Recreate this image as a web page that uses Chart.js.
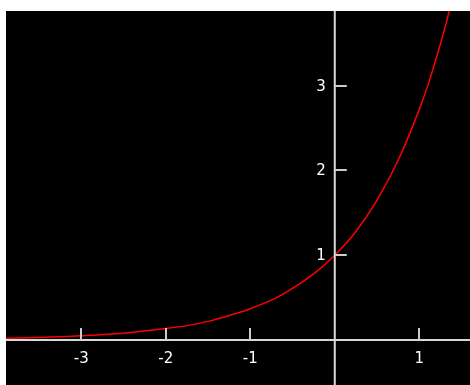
<!DOCTYPE html>
<html>
<head>
<meta charset="utf-8">
<script src="https://cdn.jsdelivr.net/npm/chart.js@4"></script>
<style>
    html, body { margin: 0; padding: 0; background: #fff; }
    #wrap { width: 470px; height: 385px; }
</style>
</head>
<body>
<div id="wrap"><canvas id="expChart"></canvas></div>
<script>
// Values
const xValues = [-3.9, -3.5, -3, -2.5, -2, -1.75, -1.5, -1.25, -1, -0.75, -0.5, -0.25, 0, 0.25, 0.5, 0.75, 1, 1.1, 1.2, 1.3, 1.4];
const yValues = [0.02, 0.03, 0.05, 0.08, 0.135, 0.17, 0.22, 0.29, 0.37, 0.47, 0.61, 0.78, 1, 1.28, 1.65, 2.12, 2.72, 3.0, 3.32, 3.67, 4.06];

// Tick labels on the axes through the origin
const xTicks = [-3, -2, -1, 1];
const yTicks = [1, 2, 3];

const points = xValues.map((x, i) => ({ x: x, y: yValues[i] }));

// Draws the black plot area and the crossing axes at the origin
const originAxes = {
    id: 'originAxes',
    beforeDraw(chart) {
        const { ctx, chartArea } = chart;
        ctx.save();
        ctx.fillStyle = '#000';
        ctx.fillRect(chartArea.left, chartArea.top, chartArea.right - chartArea.left, chartArea.bottom - chartArea.top);
        ctx.restore();
    },
    afterDatasetsDraw(chart) {
        const { ctx, chartArea, scales } = chart;
        const x0 = scales.x.getPixelForValue(0);
        const y0 = scales.y.getPixelForValue(0);

        ctx.save();
        ctx.lineWidth = 2;
        ctx.strokeStyle = '#d8d8d8';
        ctx.beginPath();
        ctx.moveTo(chartArea.left, y0);
        ctx.lineTo(chartArea.right, y0);
        ctx.moveTo(x0, chartArea.top);
        ctx.lineTo(x0, chartArea.bottom);
        ctx.stroke();

        ctx.strokeStyle = '#cccccc';
        ctx.beginPath();
        xTicks.forEach(v => {
            const px = Math.round(scales.x.getPixelForValue(v));
            ctx.moveTo(px, y0);
            ctx.lineTo(px, y0 - 12);
        });
        yTicks.forEach(v => {
            const py = Math.round(scales.y.getPixelForValue(v));
            ctx.moveTo(x0, py);
            ctx.lineTo(x0 + 12, py);
        });
        ctx.stroke();

        ctx.fillStyle = '#fff';
        ctx.font = '15px "DejaVu Sans"';
        ctx.textBaseline = 'middle';
        ctx.textAlign = 'center';
        xTicks.forEach(v => {
            ctx.fillText(String(v), scales.x.getPixelForValue(v), y0 + 19);
        });
        ctx.textAlign = 'right';
        yTicks.forEach(v => {
            ctx.fillText(String(v), x0 - 9, scales.y.getPixelForValue(v) + 1);
        });
        ctx.restore();
    }
};

const ctx = document.getElementById('expChart').getContext('2d');
new Chart(ctx, {
    type: 'scatter',
    data: {
        datasets: [{
            data: points,
            showLine: true,
            borderColor: '#ff0000',
            borderWidth: 1.5,
            pointRadius: 0,
            cubicInterpolationMode: 'monotone'
        }]
    },
    options: {
        responsive: true,
        maintainAspectRatio: false,
        animation: false,
        layout: {
            padding: { left: 6, top: 11, right: 0, bottom: 0 }
        },
        plugins: {
            legend: { display: false },
            tooltip: { enabled: false }
        },
        scales: {
            x: { type: 'linear', min: -3.89, max: 1.6, display: false },
            y: { type: 'linear', min: -0.53, max: 3.88, display: false }
        }
    },
    plugins: [originAxes]
});
</script>
</body>
</html>
